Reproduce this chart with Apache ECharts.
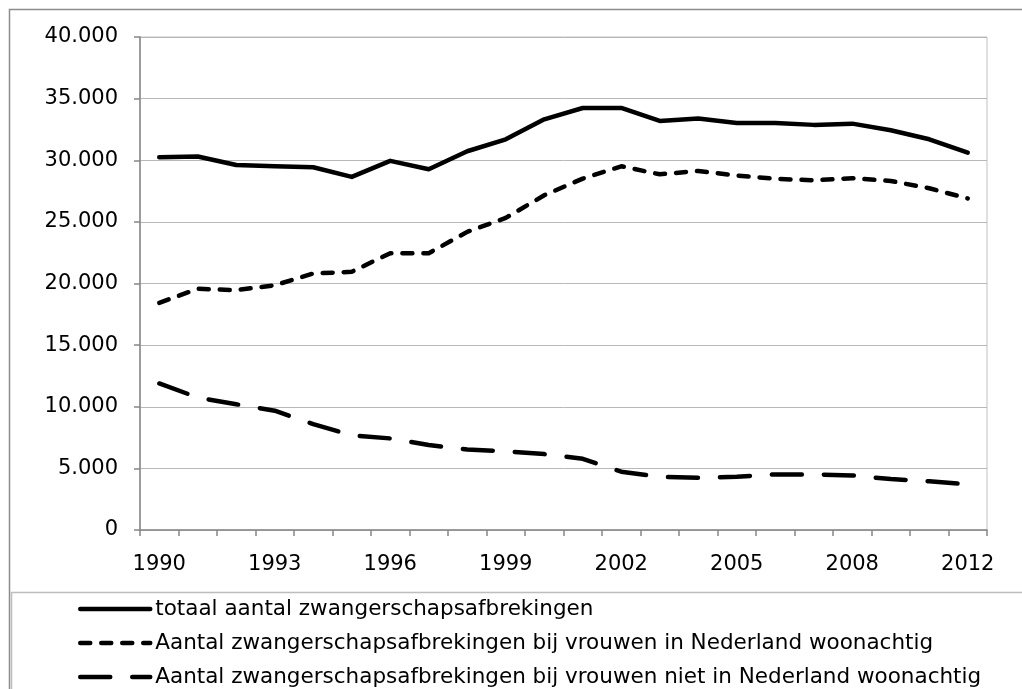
<!DOCTYPE html>
<html>
<head>
<meta charset="utf-8">
<script src="https://cdn.jsdelivr.net/npm/echarts@6/dist/echarts.min.js"></script>
<style>html,body{margin:0;padding:0;background:#fff}#c{width:1022px;height:689px}</style>
</head>
<body>
<div id="c"></div>
<script>
var years = ['1990','1991','1992','1993','1994','1995','1996','1997','1998','1999','2000','2001','2002','2003','2004','2005','2006','2007','2008','2009','2010','2012'];
var totaal = [30240,30300,29620,29510,29430,28650,29950,29270,30730,31700,33320,34240,34240,33190,33380,33030,33030,32870,32970,32430,31700,30620];
var inNL = [18430,19570,19460,19860,20810,20950,22460,22460,24190,25320,27160,28510,29510,28860,29130,28760,28490,28380,28540,28320,27730,26900];
var nietNL = [11890,10750,10200,9680,8590,7680,7430,6890,6540,6380,6160,5780,4730,4320,4240,4320,4510,4510,4430,4130,3950,3700];
var names = ['totaal aantal zwangerschapsafbrekingen','Aantal zwangerschapsafbrekingen bij vrouwen in Nederland woonachtig','Aantal zwangerschapsafbrekingen bij vrouwen niet in Nederland woonachtig'];

var chart = echarts.init(document.getElementById('c'), null, {renderer:'canvas'});
var font = 'DejaVu Sans';
function fmt(v){ return String(v).replace(/\B(?=(\d{3})+(?!\d))/g, '.'); }
function mk(name, data, type){
  return {name:name, type:'line', data:data, symbol:'none', smooth:false, animation:false,
    lineStyle:{color:'#000', width:4.5, type:type, cap:'round', join:'round'},
    itemStyle:{color:'#000'}};
}
chart.setOption({
  animation:false,
  textStyle:{fontFamily:font},
  grid:{left:140, right:35, top:37, bottom:159, show:true, borderColor:'#c0c0c0', borderWidth:1},
  xAxis:{type:'category', data:years, boundaryGap:true,
    axisLine:{lineStyle:{color:'#868686', width:1.5}},
    axisTick:{show:true, interval:0, length:6, lineStyle:{color:'#868686', width:1.5}},
    axisLabel:{interval:2, margin:24, color:'#000', fontSize:21, fontFamily:font},
    splitLine:{show:false}},
  yAxis:{type:'value', min:0, max:40000, interval:5000,
    axisLine:{show:true, lineStyle:{color:'#868686', width:1.5}},
    axisTick:{show:true, length:6, lineStyle:{color:'#868686', width:1.5}},
    axisLabel:{margin:22, color:'#000', fontSize:21, fontFamily:font, formatter:function(v){return fmt(v);}},
    splitLine:{lineStyle:{color:'#b8b8b8', width:1}}},
  legend:{orient:'vertical', left:73, top:592, height:120, itemWidth:70, itemHeight:14, itemGap:10,
    itemStyle:{color:'rgba(0,0,0,0)', borderWidth:0, opacity:0},
    lineStyle:{width:4.5, cap:'round'},
    textStyle:{fontSize:21.5, fontFamily:font, color:'#000', lineHeight:24},
    data:names},
  graphic:[
    {type:'rect', silent:true, shape:{x:9.5, y:9.5, width:1100, height:1000}, style:{fill:'none', stroke:'#8c8c8c', lineWidth:1.5}},
    {type:'rect', silent:true, shape:{x:11.5, y:592.5, width:1100, height:200}, style:{fill:'none', stroke:'#bdbdbd', lineWidth:1.5}}
  ],
  series:[
    mk(names[0], totaal, 'solid'),
    mk(names[1], inNL, [10,11]),
    mk(names[2], nietNL, [30,22])
  ]
});
</script>
</body>
</html>
